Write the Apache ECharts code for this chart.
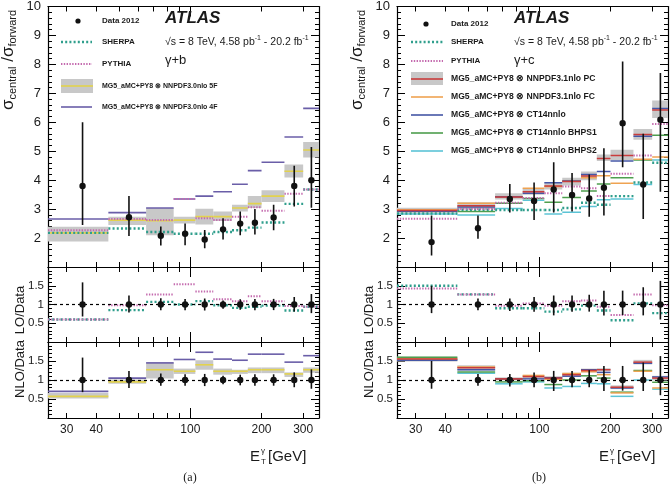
<!DOCTYPE html>
<html>
<head>
<meta charset="utf-8">
<script src="https://cdn.jsdelivr.net/npm/echarts@6/dist/echarts.min.js"></script>
<style>
html, body { margin: 0; padding: 0; background: #fff; }
#chart { width: 670px; height: 491px; }
</style>
</head>
<body>
<div id="chart"></div>
<script>
// E_T^gamma bins [GeV]
const binEdges = [25, 45, 65, 85, 105, 125, 150, 175, 200, 250, 300, 350];
const binCenters = [35, 55, 75, 95, 115, 137.5, 162.5, 187.5, 225, 275, 325];
const xMinorTicks = [30, 40, 50, 60, 70, 80, 90, 200, 300];
const xMajorTicks = [100];
const xTickLabels = [30, 40, 100, 200, 300];

// (a) gamma + b
const bData = [3.8, 2.72, 2.08, 2.15, 1.95, 2.3, 2.5, 2.53, 2.71, 3.8, 4.0];
const bDataHi = [6.0, 3.45, 2.4, 2.5, 2.28, 2.68, 2.92, 3.0, 3.15, 4.5, 5.15];
const bDataLo = [2.45, 2.07, 1.74, 1.75, 1.65, 1.95, 2.1, 2.12, 2.27, 3.09, 3.05];
const bSherpa = [2.18, 2.33, 2.21, 2.15, 2.15, 2.21, 2.27, 2.36, 2.54, 3.18, 3.68];
const bPythia = [2.27, 2.66, 2.62, 3.35, 2.68, 2.62, 2.74, 3.06, 2.94, 3.53, 3.68];
const b5F = [2.18, 2.62, 2.6, 2.62, 2.74, 2.74, 3.04, 3.19, 3.45, 4.31, 5.04];
const b5FLo = [1.88, 2.45, 2.1, 2.5, 2.47, 2.59, 2.92, 3.04, 3.25, 4.09, 4.78];
const b5FHi = [2.39, 2.74, 3.04, 2.74, 3.01, 2.92, 3.15, 3.45, 3.65, 4.54, 5.32];
const b4F = [2.66, 2.88, 3.04, 3.35, 3.45, 3.6, 3.86, 4.33, 4.62, 5.49, 6.48];
// ratios
const bLoSherpa = [0.6, 0.85, 1.07, 1.0, 1.09, 0.98, 0.91, 0.94, 0.97, 0.84, 0.94];
const bLoPythia = [0.6, 0.98, 1.27, 1.54, 1.35, 1.14, 1.09, 1.22, 1.09, 0.96, 0.94];
const bNlo4F = [0.70, 1.05, 1.45, 1.54, 1.73, 1.55, 1.52, 1.68, 1.68, 1.47, 1.64];
const bNlo5F = [0.57, 0.95, 1.27, 1.23, 1.4, 1.23, 1.23, 1.27, 1.27, 1.16, 1.27];
const bNlo5FLo = [0.51, 0.9, 1.04, 1.16, 1.27, 1.14, 1.16, 1.18, 1.18, 1.08, 1.19];
const bNlo5FHi = [0.66, 1.01, 1.46, 1.3, 1.52, 1.3, 1.27, 1.33, 1.33, 1.2, 1.33];
const bRatio = [1, 1, 1, 1, 1, 1, 1, 1, 1, 1, 1];
const bRatioHi = [1.59, 1.24, 1.17, 1.15, 1.16, 1.11, 1.14, 1.15, 1.15, 1.2, 1.28];
const bRatioLo = [0.68, 0.79, 0.85, 0.85, 0.84, 0.89, 0.86, 0.85, 0.85, 0.81, 0.77];

// (b) gamma + c
const cData = [1.86, 2.34, 3.35, 3.28, 3.68, 3.49, 3.37, 3.74, 5.97, 3.85, 6.09];
const cDataHi = [2.78, 2.78, 3.87, 3.92, 4.62, 4.25, 4.2, 5.1, 8.1, 5.6, 7.7];
const cDataLo = [1.4, 1.98, 2.88, 2.62, 2.88, 2.92, 2.74, 2.78, 4.45, 2.66, 3.6];
const cSherpa = [2.85, 2.98, 2.97, 2.97, 2.97, 3.04, 3.22, 3.15, 3.45, 3.92, 4.6];
const cPythia = [2.67, 3.0, 3.22, 3.38, 3.55, 3.78, 3.72, 3.45, 4.22, 4.85, 5.94];
const cPC = [2.95, 3.12, 3.42, 3.6, 3.8, 3.95, 4.14, 4.75, 4.85, 5.58, 6.42];
const cPCLo = [2.85, 3.0, 3.33, 3.5, 3.68, 3.82, 4.0, 4.66, 4.7, 5.4, 6.15];
const cPCHi = [3.05, 3.24, 3.55, 3.72, 3.93, 4.08, 4.3, 4.89, 5.05, 5.77, 6.75];
const cFC = [2.98, 3.2, 3.42, 3.72, 3.78, 3.98, 4.08, 4.15, 3.89, 4.72, 4.8];
const cCT14 = [2.93, 3.07, 3.43, 3.55, 3.91, 3.97, 4.2, 4.3, 4.66, 5.52, 6.48];
const cBHPS1 = [2.97, 2.92, 3.2, 3.37, 3.24, 3.4, 3.63, 3.87, 4.08, 4.7, 5.55];
const cBHPS2 = [2.83, 2.8, 3.02, 3.31, 2.83, 2.89, 3.09, 3.32, 3.35, 3.85, 4.7];
// ratios
const cLoSherpa = [1.5, 1.27, 0.9, 0.9, 0.81, 0.87, 0.97, 0.84, 0.58, 1.03, 0.77];
const cLoPythia = [1.43, 1.27, 0.97, 1.03, 0.97, 1.09, 1.11, 0.94, 0.72, 1.27, 0.98];
const cNloPC = [1.55, 1.32, 1.03, 1.09, 1.05, 1.14, 1.25, 1.27, 0.81, 1.47, 1.05];
const cNloPCLo = [1.49, 1.25, 0.99, 1.05, 1.0, 1.09, 1.2, 1.23, 0.76, 1.41, 0.99];
const cNloPCHi = [1.61, 1.39, 1.07, 1.13, 1.1, 1.19, 1.3, 1.31, 0.86, 1.53, 1.11];
const cNloFC = [1.56, 1.34, 1.02, 1.12, 1.02, 1.17, 1.22, 1.14, 0.66, 1.23, 0.79];
const cNloCT14 = [1.52, 1.27, 1.03, 1.03, 1.06, 1.1, 1.27, 1.2, 0.79, 1.44, 1.08];
const cNloBHPS1 = [1.6, 1.21, 0.95, 0.98, 0.88, 1.0, 1.11, 1.05, 0.68, 1.25, 0.94];
const cNloBHPS2 = [1.53, 1.18, 0.9, 0.95, 0.79, 0.83, 0.91, 0.9, 0.57, 1.0, 0.76];
const cRatio = [1, 1, 1, 1, 1, 1, 1, 1, 1, 1, 1];
const cRatioHi = [1.5, 1.16, 1.16, 1.2, 1.24, 1.24, 1.26, 1.37, 1.37, 1.46, 1.63];
const cRatioLo = [0.77, 0.85, 0.83, 0.81, 0.71, 0.81, 0.81, 0.71, 0.72, 0.71, 0.6];

const FONT = '"Liberation Sans", Arial, Helvetica, sans-serif';
const TXT = '#1a1a1a';
const COL = {
    sherpa: '#2f9e8c', pythia: '#c46aae', band: '#c8c8c8',
    f5: '#e2d24e', f4: '#6a5ea8',
    pc: '#c93c3c', fc: '#efa352', ct: '#4557a6', bh1: '#4e9e4e', bh2: '#5cc4d6'
};
const SHERPA_DASH = [2, 2.2];
const PYTHIA_DASH = [1.4, 1.4];

const plotLeft = [48, 397];
const plotWidth = 271;
const rowTop = [2, 267, 342];
const rowHeight = [265, 75, 76];

const chart = echarts.init(document.getElementById('chart'), null, {renderer: 'canvas'});

const grids = [], xAxes = [], yAxes = [], series = [];

function makeX(g, pos, major, labels) {
    return {
        type: 'log', logBase: 10, gridIndex: g, position: pos, min: 25, max: 350,
        axisLine: {show: !major, onZero: false, lineStyle: {color: '#000', width: 1.2}},
        axisTick: {show: true, inside: true, length: major ? 10 : 5,
            customValues: major ? xMajorTicks : xMinorTicks, lineStyle: {color: '#000', width: 1}},
        axisLabel: {show: labels, customValues: xTickLabels, fontSize: 12, color: TXT,
            fontFamily: FONT, margin: 6, formatter: v => String(Math.round(v))},
        splitLine: {show: false}
    };
}

function makeY(g, row, pos, labels) {
    const top = row === 0;
    return {
        type: 'value', gridIndex: g, position: pos,
        min: top ? 1 : 0, max: top ? 10 : 2, interval: top ? 1 : 0.5,
        axisLine: {show: true, onZero: false, lineStyle: {color: '#000', width: 1.2}},
        axisTick: {show: true, inside: true, length: 8, lineStyle: {color: '#000'}},
        minorTick: {show: true, splitNumber: 5, length: 4, lineStyle: {color: '#000'}},
        axisLabel: {show: labels, fontSize: top ? 13 : 11.5, color: TXT, fontFamily: FONT,
            margin: top ? 7 : 4, showMinLabel: false, showMaxLabel: top},
        splitLine: {show: false}
    };
}

for (let p = 0; p < 2; p++) {
    for (let r = 0; r < 3; r++) {
        const g = grids.length;
        grids.push({left: plotLeft[p], top: rowTop[r], width: plotWidth, height: rowHeight[r]});
        xAxes.push(makeX(g, 'bottom', false, r === 2));
        xAxes.push(makeX(g, 'bottom', true, false));
        xAxes.push(makeX(g, 'top', false, false));
        xAxes.push(makeX(g, 'top', true, false));
        yAxes.push(makeY(g, r, 'left', true));
        yAxes.push(makeY(g, r, 'right', false));
    }
}

// horizontal histogram segment per bin
function steps(g, vals, color, width, dash, z) {
    return {
        type: 'custom', xAxisIndex: g * 4, yAxisIndex: g * 2, z: z, clip: true, silent: true,
        data: vals.map((v, i) => [binEdges[i], binEdges[i + 1], v]),
        encode: {x: [0, 1], y: 2},
        renderItem: function (params, api) {
            const a = api.coord([api.value(0), api.value(2)]);
            const b = api.coord([api.value(1), api.value(2)]);
            return {
                type: 'line',
                shape: {x1: a[0], y1: a[1], x2: b[0], y2: b[1]},
                style: {stroke: color, lineWidth: width, lineDash: dash || null}
            };
        }
    };
}

// uncertainty band per bin
function band(g, lo, hi, color, z) {
    return {
        type: 'custom', xAxisIndex: g * 4, yAxisIndex: g * 2, z: z, clip: true, silent: true,
        data: lo.map((l, i) => [binEdges[i], binEdges[i + 1], l, hi[i]]),
        encode: {x: [0, 1], y: [2, 3]},
        renderItem: function (params, api) {
            const a = api.coord([api.value(0), api.value(3)]);
            const b = api.coord([api.value(1), api.value(2)]);
            return {
                type: 'rect',
                shape: {x: a[0], y: a[1], width: b[0] - a[0], height: b[1] - a[1]},
                style: {fill: color}
            };
        }
    };
}

// data points with error bars
function points(g, vals, lo, hi, refLine) {
    const s = {
        type: 'custom', xAxisIndex: g * 4, yAxisIndex: g * 2, z: 20, clip: true, silent: true,
        data: vals.map((v, i) => [binCenters[i], v, lo[i], hi[i]]),
        encode: {x: 0, y: [1, 2, 3]},
        renderItem: function (params, api) {
            const c = api.coord([api.value(0), api.value(1)]);
            const t = api.coord([api.value(0), api.value(3)]);
            const b = api.coord([api.value(0), api.value(2)]);
            return {
                type: 'group',
                children: [
                    {type: 'line', shape: {x1: t[0], y1: t[1], x2: b[0], y2: b[1]},
                        style: {stroke: '#111', lineWidth: 1.6}},
                    {type: 'circle', shape: {cx: c[0], cy: c[1], r: 3.2}, style: {fill: '#111'}}
                ]
            };
        }
    };
    if (refLine) {
        s.markLine = {
            silent: true, symbol: ['none', 'none'], animation: false,
            label: {show: false},
            lineStyle: {color: '#000', type: [3, 3], width: 1.2},
            data: [{yAxis: 1}]
        };
    }
    return s;
}

// (a) top
series.push(band(0, b5FLo, b5FHi, COL.band, 1));
series.push(steps(0, b5F, COL.f5, 1.6, null, 3));
series.push(steps(0, b4F, COL.f4, 1.6, null, 3));
series.push(steps(0, bSherpa, COL.sherpa, 2.4, SHERPA_DASH, 4));
series.push(steps(0, bPythia, COL.pythia, 2, PYTHIA_DASH, 4));
series.push(points(0, bData, bDataLo, bDataHi, false));
// (a) LO/Data
series.push(steps(1, bLoSherpa, COL.sherpa, 2.4, SHERPA_DASH, 4));
series.push(steps(1, bLoPythia, COL.pythia, 2, PYTHIA_DASH, 4));
series.push(points(1, bRatio, bRatioLo, bRatioHi, true));
// (a) NLO/Data
series.push(band(2, bNlo5FLo, bNlo5FHi, COL.band, 1));
series.push(steps(2, bNlo5F, COL.f5, 1.6, null, 3));
series.push(steps(2, bNlo4F, COL.f4, 1.6, null, 3));
series.push(points(2, bRatio, bRatioLo, bRatioHi, true));

// (b) top
series.push(band(3, cPCLo, cPCHi, COL.band, 1));
series.push(steps(3, cBHPS2, COL.bh2, 1.5, null, 3));
series.push(steps(3, cBHPS1, COL.bh1, 1.5, null, 3));
series.push(steps(3, cFC, COL.fc, 1.5, null, 3));
series.push(steps(3, cCT14, COL.ct, 1.5, null, 3));
series.push(steps(3, cPC, COL.pc, 1.5, null, 3));
series.push(steps(3, cSherpa, COL.sherpa, 2.4, SHERPA_DASH, 4));
series.push(steps(3, cPythia, COL.pythia, 2, PYTHIA_DASH, 4));
series.push(points(3, cData, cDataLo, cDataHi, false));
// (b) LO/Data
series.push(steps(4, cLoSherpa, COL.sherpa, 2.4, SHERPA_DASH, 4));
series.push(steps(4, cLoPythia, COL.pythia, 2, PYTHIA_DASH, 4));
series.push(points(4, cRatio, cRatioLo, cRatioHi, true));
// (b) NLO/Data
series.push(band(5, cNloPCLo, cNloPCHi, COL.band, 1));
series.push(steps(5, cNloBHPS2, COL.bh2, 1.5, null, 3));
series.push(steps(5, cNloBHPS1, COL.bh1, 1.5, null, 3));
series.push(steps(5, cNloFC, COL.fc, 1.5, null, 3));
series.push(steps(5, cNloCT14, COL.ct, 1.5, null, 3));
series.push(steps(5, cNloPC, COL.pc, 1.5, null, 3));
series.push(points(5, cRatio, cRatioLo, cRatioHi, true));

// ---- legends, labels (graphic) ----
const graphics = [];
function txt(x, y, text, size, opts) {
    opts = opts || {};
    graphics.push({
        type: 'text', x: x, y: y, rotation: opts.rotation || 0, z: 50,
        style: {
            text: text, fontSize: size, fontFamily: opts.family || FONT,
            fontWeight: opts.weight || 'normal', fontStyle: opts.style || 'normal',
            fill: TXT, align: opts.align || 'left', verticalAlign: 'middle',
            rich: opts.rich
        }
    });
}
function lline(x1, x2, y, color, width, dash) {
    graphics.push({type: 'line', z: 50, shape: {x1: x1, y1: y, x2: x2, y2: y},
        style: {stroke: color, lineWidth: width, lineDash: dash || null}});
}
function lbox(x, y, w, h, color) {
    graphics.push({type: 'rect', z: 49, shape: {x: x, y: y, width: w, height: h}, style: {fill: color}});
}
function ldot(x, y) {
    graphics.push({type: 'circle', z: 50, shape: {cx: x, cy: y, r: 2.6}, style: {fill: '#111'}});
}

const supRich = {sup: {fontSize: 7, fontFamily: FONT, fill: TXT, verticalAlign: 'top', lineHeight: 14}};
const yRich = {
    m: {fontSize: 17, fontFamily: FONT, fill: TXT, lineHeight: 20},
    s: {fontSize: 11, fontFamily: FONT, fill: TXT, verticalAlign: 'bottom'}
};

// panel (a)
ldot(78, 21); txt(102, 21, 'Data 2012', 8, {weight: 'bold'});
lline(61, 92, 42, COL.sherpa, 2.4, SHERPA_DASH); txt(102, 42, 'SHERPA', 8, {weight: 'bold'});
lline(61, 92, 64, COL.pythia, 2, PYTHIA_DASH); txt(102, 64, 'PYTHIA', 8, {weight: 'bold'});
lbox(61, 79, 32, 14, COL.band); lline(61, 93, 86, COL.f5, 1.6);
txt(102, 86, 'MG5_aMC+PY8 ⊗ NNPDF3.0nlo 5F', 7, {weight: 'bold'});
lline(61, 92, 107, COL.f4, 1.6); txt(102, 107, 'MG5_aMC+PY8 ⊗ NNPDF3.0nlo 4F', 7, {weight: 'bold'});
txt(165, 18, 'ATLAS', 17, {weight: 'bold', style: 'italic'});
txt(165, 42, '√s = 8 TeV, 4.58 pb{sup|-1} - 20.2 fb{sup|-1}', 10.5, {rich: supRich});
txt(165, 60, 'γ+b', 13);

// panel (b)
ldot(426, 24); txt(451, 24, 'Data 2012', 8, {weight: 'bold'});
lline(411, 443, 42, COL.sherpa, 2.4, SHERPA_DASH); txt(451, 42, 'SHERPA', 8, {weight: 'bold'});
lline(411, 443, 61, COL.pythia, 2, PYTHIA_DASH); txt(451, 61, 'PYTHIA', 8, {weight: 'bold'});
lbox(411, 72, 32, 13, COL.band); lline(411, 443, 79, COL.pc, 1.6);
txt(451, 79, 'MG5_aMC+PY8 ⊗ NNPDF3.1nlo PC', 8.6, {weight: 'bold'});
lline(411, 443, 97, COL.fc, 1.6); txt(451, 97, 'MG5_aMC+PY8 ⊗ NNPDF3.1nlo FC', 8.6, {weight: 'bold'});
lline(411, 443, 115, COL.ct, 1.6); txt(451, 115, 'MG5_aMC+PY8 ⊗ CT14nnlo', 8.6, {weight: 'bold'});
lline(411, 443, 133, COL.bh1, 1.6); txt(451, 133, 'MG5_aMC+PY8 ⊗ CT14nnlo BHPS1', 8.6, {weight: 'bold'});
lline(411, 443, 151, COL.bh2, 1.6); txt(451, 151, 'MG5_aMC+PY8 ⊗ CT14nnlo BHPS2', 8.6, {weight: 'bold'});
txt(514, 18, 'ATLAS', 17, {weight: 'bold', style: 'italic'});
txt(514, 42, '√s = 8 TeV, 4.58 pb{sup|-1} - 20.2 fb{sup|-1}', 10.5, {rich: supRich});
txt(514, 60, 'γ+c', 13);

// axis titles for both panels
[0, 1].forEach(p => {
    const x0 = plotLeft[p];
    txt(x0 - 40, 60, '{m|σ}{s|central}{m| /σ}{s|forward}', 17, {rotation: Math.PI / 2, align: 'center', rich: yRich});
    txt(x0 - 28, 310, 'LO/Data', 13, {rotation: Math.PI / 2, align: 'center'});
    txt(x0 - 28, 369, 'NLO/Data', 13, {rotation: Math.PI / 2, align: 'center'});
    txt(x0 + 202, 457, 'E', 15);
    txt(x0 + 213, 451, 'γ', 8);
    txt(x0 + 213, 462, 'T', 8);
    txt(x0 + 220, 457, '[GeV]', 15);
    txt(x0 + 142, 478, p === 0 ? '(a)' : '(b)', 12, {family: '"Liberation Serif", "Times New Roman", serif', align: 'center'});
});

chart.setOption({
    animation: false,
    backgroundColor: '#fff',
    grid: grids,
    xAxis: xAxes,
    yAxis: yAxes,
    series: series,
    graphic: graphics
});
</script>
</body>
</html>
